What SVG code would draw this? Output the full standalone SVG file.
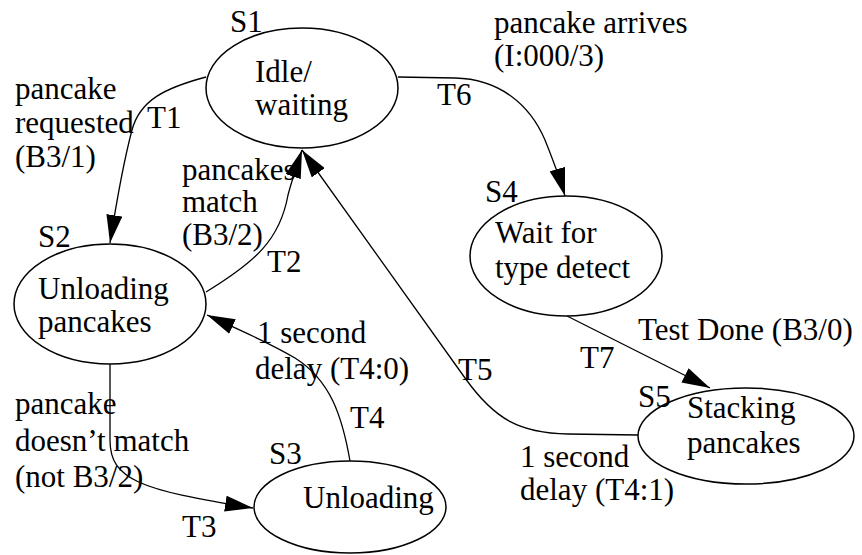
<svg xmlns="http://www.w3.org/2000/svg" width="862" height="555" viewBox="0 0 862 555">
<defs>
<style>
text{font-family:"Liberation Serif","Times New Roman",serif;font-size:31px;fill:#000}
.st{fill:#fff;stroke:#000;stroke-width:1.5}
.ed{fill:none;stroke:#000;stroke-width:1.3}
</style>
<marker id="ah" markerUnits="userSpaceOnUse" markerWidth="28" markerHeight="16" refX="28" refY="8" orient="auto" viewBox="0 0 28 16">
<path d="M0,0 L28,8 L0,16 z" fill="#000"/>
</marker>
</defs>
<rect width="862" height="555" fill="#fff"/>
<g id="connectors">
<path id="T1" class="ed" d="M206,77 C165,88 140,100 132,130 C124,160 116,205 110,243" marker-end="url(#ah)"/>
<path id="T2" class="ed" d="M206,292 C255,262 280,240 288,195 C292,180 296,168 302,150" marker-end="url(#ah)"/>
<path id="T3" class="ed" d="M110,364 L110,440 C110,480 140,490 253,508" marker-end="url(#ah)"/>
<path id="T4" class="ed" d="M350,461 C342,415 330,380 295,358 C270,343 240,330 207,315" marker-end="url(#ah)"/>
<path id="T5" class="ed" d="M638,435 L568,434 C520,433 495,420 465,378 L302,150" marker-end="url(#ah)"/>
<path id="T6" class="ed" d="M398,77 L455,78 C500,79 530,105 545,140 C552,158 559,175 565,196" marker-end="url(#ah)"/>
<path id="T7" class="ed" d="M567,316 L710,388" marker-end="url(#ah)"/>
</g>
<g id="S1">
<ellipse class="st" cx="302" cy="88" rx="96" ry="60"/>
<text x="230" y="32">S1</text>
<text x="255" y="82">Idle/</text>
<text x="255" y="115">waiting</text>
</g>
<g id="S2">
<ellipse class="st" cx="110" cy="304" rx="96" ry="60"/>
<text x="38" y="247">S2</text>
<text x="38" y="299">Unloading</text>
<text x="38" y="332">pancakes</text>
</g>
<g id="S3">
<ellipse class="st" cx="350" cy="507" rx="96" ry="46"/>
<text x="269" y="464">S3</text>
<text x="303" y="508">Unloading</text>
</g>
<g id="S4">
<ellipse class="st" cx="566" cy="256" rx="96" ry="60"/>
<text x="485" y="202">S4</text>
<text x="495" y="243">Wait for</text>
<text x="495" y="278">type detect</text>
</g>
<g id="S5">
<ellipse class="st" cx="746" cy="436" rx="108" ry="48"/>
<text x="638" y="407">S5</text>
<text x="687" y="418">Stacking</text>
<text x="687" y="453">pancakes</text>
</g>
<g id="labels">
<text x="15" y="99">pancake</text>
<text x="15" y="133">requested</text>
<text x="15" y="167">(B3/1)</text>
<text x="147" y="128">T1</text>
<text x="182" y="180">pancakes</text>
<text x="182" y="212">match</text>
<text x="182" y="245">(B3/2)</text>
<text x="267" y="272">T2</text>
<text x="494" y="33">pancake arrives</text>
<text x="494" y="66">(I:000/3)</text>
<text x="437" y="105">T6</text>
<text x="638" y="340">Test Done (B3/0)</text>
<text x="580" y="368">T7</text>
<text x="458" y="380">T5</text>
<text x="520" y="467">1 second</text>
<text x="520" y="500">delay (T4:1)</text>
<text x="257" y="343">1 second</text>
<text x="255" y="379">delay (T4:0)</text>
<text x="350" y="428">T4</text>
<text x="15" y="414">pancake</text>
<text x="15" y="451">doesn’t match</text>
<text x="15" y="487">(not B3/2)</text>
<text x="182" y="537">T3</text>
</g>
</svg>
